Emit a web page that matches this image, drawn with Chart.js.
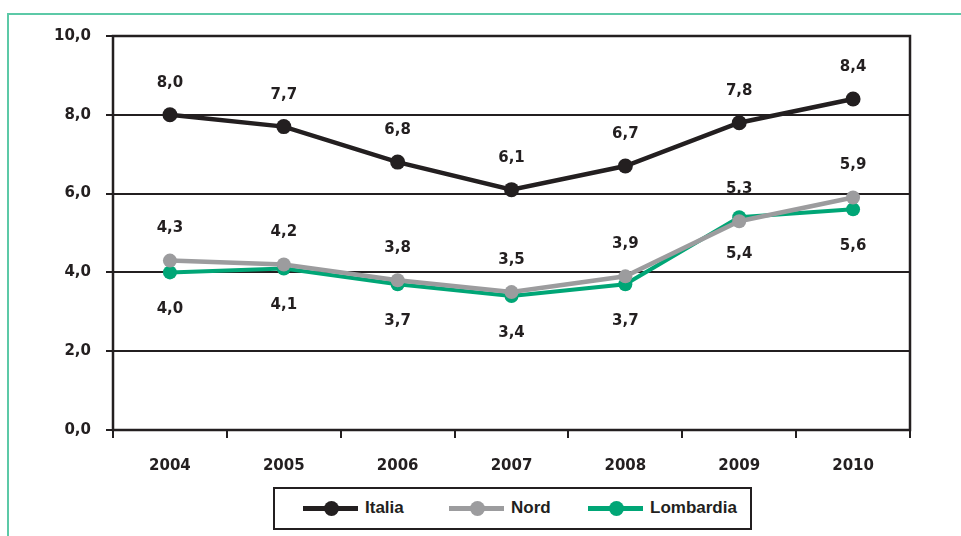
<!DOCTYPE html>
<html>
<head>
<meta charset="utf-8">
<script src="https://cdn.jsdelivr.net/npm/chart.js@4.4.1/dist/chart.umd.min.js"></script>
<style>
  body { margin: 0; background: #fff; }
  #wrap { position: relative; width: 961px; height: 536px; overflow: hidden; }
  #frame { position: absolute; left: 7px; top: 13px; width: 960px; height: 540px;
           border-top: 2px solid #5cc9a7; border-left: 2px solid #5cc9a7; }
  #box { position: absolute; left: 0; top: 0; width: 961px; height: 536px; }
  #legend { position: absolute; left: 273px; top: 487px; width: 475px; height: 39px;
            border: 2px solid #231f20; background: #fff;
            font-family: "Liberation Sans", Arial, sans-serif; font-weight: bold; font-size: 17px; color: #231f20; }
  .item { position: absolute; top: 0; height: 39px; }
  .ln { position: absolute; top: 17px; width: 55px; height: 5px; }
  .dot { position: absolute; top: 12px; left: 21px; width: 15px; height: 15px; border-radius: 50%; }
  .txt { position: absolute; left: 62px; top: 9px; white-space: nowrap; }
</style>
</head>
<body>
<div id="wrap">
  <div id="frame"></div>
  <div id="box"><canvas id="chart"></canvas></div>
  <div id="legend"></div>
</div>
<script>
// dati
const anni = ['2004', '2005', '2006', '2007', '2008', '2009', '2010'];
const italia = [8.0, 7.7, 6.8, 6.1, 6.7, 7.8, 8.4];
const nord = [4.3, 4.2, 3.8, 3.5, 3.9, 5.3, 5.9];
const lombardia = [4.0, 4.1, 3.7, 3.4, 3.7, 5.4, 5.6];
const yTicks = [0, 2, 4, 6, 8, 10];

const INK = '#231f20';
const serie = [
  { label: 'Italia', data: italia, color: INK, width: 4.5, radius: 7.5, pos: 'above', x: 28 },
  { label: 'Nord', data: nord, color: '#9c9c9e', width: 4.5, radius: 7, pos: 'above', x: 174 },
  { label: 'Lombardia', data: lombardia, color: '#00a676', width: 4, radius: 7, pos: 'below', x: 313 }
];

function fmt(v) {
  return v.toFixed(1).replace('.', ',');
}

// cornice del grafico
const boxPlugin = {
  id: 'boxPlugin',
  beforeDatasetsDraw(chart) {
    const a = chart.chartArea;
    const ctx = chart.ctx;
    ctx.save();
    ctx.strokeStyle = INK;
    ctx.lineWidth = 2.5;
    ctx.strokeRect(a.left, a.top, a.right - a.left, a.bottom - a.top);
    ctx.restore();
  }
};

// etichette dei valori
const labelPlugin = {
  id: 'labelPlugin',
  afterDatasetsDraw(chart) {
    const ctx = chart.ctx;
    ctx.save();
    ctx.font = 'bold 15px "DejaVu Sans", sans-serif';
    ctx.fillStyle = INK;
    ctx.textAlign = 'center';
    ctx.textBaseline = 'middle';
    chart.data.datasets.forEach((ds, i) => {
      const meta = chart.getDatasetMeta(i);
      meta.data.forEach((pt, j) => {
        const dy = serie[i].pos === 'above' ? -32 : 37;
        ctx.fillText(fmt(ds.data[j]), pt.x, pt.y + dy);
      });
    });
    ctx.restore();
  }
};

new Chart(document.getElementById('chart'), {
  type: 'line',
  data: {
    labels: anni,
    datasets: serie.map(s => ({
      label: s.label,
      data: s.data,
      borderColor: s.color,
      backgroundColor: s.color,
      borderWidth: s.width,
      pointRadius: s.radius,
      pointHoverRadius: s.radius,
      pointBorderWidth: 0,
      tension: 0
    }))
  },
  options: {
    responsive: true,
    maintainAspectRatio: false,
    animation: false,
    layout: { padding: { left: 0, top: 36, right: 51, bottom: 0 } },
    plugins: { legend: { display: false }, tooltip: { enabled: false } },
    scales: {
      x: {
        offset: true,
        grid: { offset: true, drawOnChartArea: false, color: INK, lineWidth: 2, tickLength: 8 },
        border: { display: false },
        ticks: { color: INK, padding: 19, font: { family: 'DejaVu Sans', weight: 'bold', size: 15 } },
        afterFit(s) { s.height = 106; }
      },
      y: {
        min: 0,
        max: 10,
        afterBuildTicks(s) { s.ticks = yTicks.map(v => ({ value: v })); },
        grid: { color: INK, lineWidth: 2, tickLength: 7 },
        border: { display: false },
        ticks: {
          color: INK,
          padding: 15,
          font: { family: 'DejaVu Sans', weight: 'bold', size: 15 },
          callback: v => fmt(v)
        },
        afterFit(s) { s.width = 113; }
      }
    }
  },
  plugins: [boxPlugin, labelPlugin]
});

// legenda
const legend = document.getElementById('legend');
serie.forEach(s => {
  const it = document.createElement('div');
  it.className = 'item';
  it.style.left = s.x + 'px';
  it.innerHTML = '<span class="ln" style="background:' + s.color + '"></span>' +
    '<span class="dot" style="background:' + s.color + '"></span>' +
    '<span class="txt">' + s.label + '</span>';
  legend.appendChild(it);
});
</script>
</body>
</html>
